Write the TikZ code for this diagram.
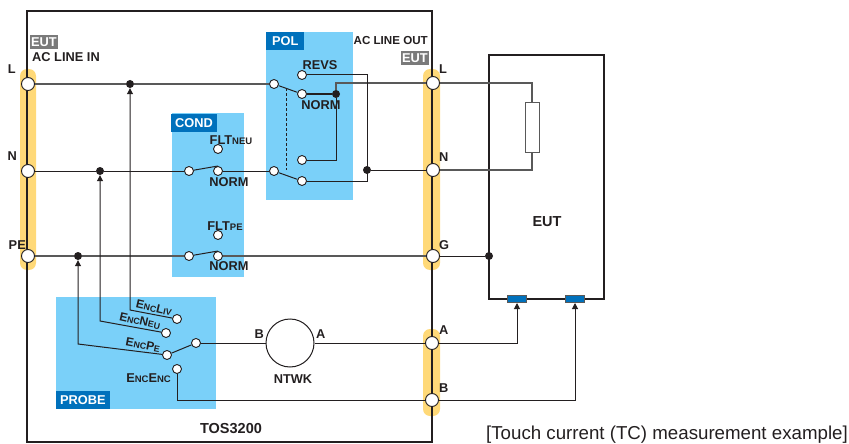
\documentclass[tikz,border=0pt]{standalone}
\usepackage{fontspec}
\setmainfont{Liberation Sans}
\usetikzlibrary{
  arrows.meta,
  positioning,
}
\definecolor{ink}{HTML}{231F20}
\definecolor{wiregrey}{HTML}{595959}
\definecolor{barbg}{HTML}{FFD978}
\definecolor{panelbg}{HTML}{7AD0F9}
\definecolor{tagblue}{HTML}{0071BC}
\definecolor{taggrey}{HTML}{7A7A7A}
\newcommand{\lbl}{\fontsize{12.8}{14}\selectfont\bfseries}
\newcommand{\lblbig}{\fontsize{14.5}{16}\selectfont\bfseries}
\newcommand{\lblsm}{\fontsize{9.5}{10}\selectfont\bfseries}
\newcommand{\enc}[2]{E{\lblsm NC}#1{\lblsm #2}}
\newcommand{\encrot}[2]{\fontsize{12}{14}\selectfont\bfseries E{\fontsize{8.8}{10}\selectfont NC}#1{\fontsize{8.8}{10}\selectfont #2}}
\tikzset{
  >={Triangle[width=6pt,length=6pt]},
  every node/.style={text=ink, font=\lbl, inner sep=0pt},
  term/.style={circle, draw=ink, fill=white, line width=0.9pt, minimum size=9pt},
  port/.style={circle, draw=ink, fill=white, line width=0.9pt, minimum size=13pt},
  jdot/.style={circle, fill=ink, minimum size=8pt},
  wire/.style={draw=ink, line width=1pt},
  gwire/.style={draw=wiregrey, line width=1.2pt},
  frame/.style={draw=ink, line width=2.2pt},
  bar/.style={fill=barbg, rounded corners=7pt},
  panel/.style={fill=panelbg},
  tag/.style={fill=tagblue, text=white, minimum height=18pt, inner xsep=4pt},
  gtag/.style={fill=taggrey, text=white, minimum height=14pt, inner xsep=1pt},
  pad/.style={fill=tagblue, draw=wiregrey, line width=1pt, minimum width=19pt, minimum height=7pt},
}

\begin{document}
\begin{tikzpicture}[x=1pt, y=-1pt]
      \useasboundingbox (0,0) rectangle (849,444);
      % backgrounds
      \fill [bar] (20,69) rectangle (36,270);
      \fill [bar] (423,69) rectangle (440,270);
      \fill [bar] (423,329) rectangle (440,416);
      \fill [panel] (172,113) rectangle (244,277);
      \fill [panel] (266,32) rectangle (353,200);
      \fill [panel] (56,297) rectangle (216,409);
      \draw [frame] (27,11) rectangle (432,442);
      \draw [frame] (489,55) rectangle (604,299);
      % tags
      \node [tag, anchor=north west, minimum width=45pt] (tagCond) at (171,114) {COND};
      \node [tag, anchor=north west, minimum width=38pt] (tagPol) at (266,32) {POL};
      \node [tag, anchor=south west, minimum width=53pt] (tagProbe) at (56,409) {PROBE};
      \node [gtag, anchor=north west] (tagIn) at (30,35) {EUT};
      \node [gtag, anchor=north east] (tagOut) at (429,51) {EUT};
      % ports
      \node [port] (inL) at (28,84) {};
      \node [port] (inN) at (28,171) {};
      \node [port] (inPE) at (28,256) {};
      \node [port] (outL) at (433,83) {};
      \node [port] (outN) at (433,170) {};
      \node [port] (outG) at (433,256) {};
      \node [port] (portA) at (432,343) {};
      \node [port] (portB) at (432,400) {};
      % junctions
      \node [jdot] (jL) at (130,84) {};
      \node [jdot] (jN) at (100,171) {};
      \node [jdot] (jPE) at (78,256) {};
      \node [jdot] (jPol) at (336,94) {};
      \node [jdot] (jRevs) at (367,170) {};
      \node [jdot] (jEut) at (489,256) {};
      % COND
      \node [term] (condNa) at (189,171) {};
      \node [term] (condNb) at (218,171) {};
      \node [term] (condNc) at (218,149) {};
      \node [term] (condPa) at (189,256) {};
      \node [term] (condPb) at (218,256) {};
      \node [term] (condPc) at (218,235) {};
      % POL
      \node [term] (polLa) at (274,84) {};
      \node [term] (polLb) at (302,94) {};
      \node [term] (polLc) at (302,75) {};
      \node [term] (polNa) at (274,171) {};
      \node [term] (polNb) at (302,181) {};
      \node [term] (polNc) at (302,160) {};
      % PROBE
      \node [term] (encLiv) at (177,319) {};
      \node [term] (encNeu) at (166,333) {};
      \node [term] (encPe) at (167,355) {};
      \node [term] (encEnc) at (177,369) {};
      \node [term] (probeCom) at (196,343) {};
      \node [circle, draw=ink, fill=white, line width=1pt, minimum size=48pt] (ntwk) at (290,343) {};
      % EUT parts
      \node [draw=wiregrey, fill=white, line width=1pt, minimum width=14pt, minimum height=50pt] (load) at (532,127) {};
      \node [pad] (padA) at (517,299) {};
      \node [pad] (padB) at (575,299) {};
      % line wires
      \draw [gwire] (inL) -- (jL);
      \draw [gwire] (jL) -- (polLa);
      \draw [wire] (inN) -- (jN);
      \draw [wire] (jN) -- (condNa);
      \draw [wire] (condNb) -- (polNa);
      \draw [gwire] (inPE) -- (jPE);
      \draw [gwire] (jPE) -- (condPa);
      \draw [gwire] (condPb) -- (outG);
      % switch arms
      \draw [wire] (condNa) -- (218,166);
      \draw [wire] (condPa) -- (218,251);
      \draw [wire] (polLa) -- (polLb);
      \draw [wire] (polNa) -- (polNb);
      \draw [wire] (probeCom) -- (encPe);
      \draw [wire, dashed, dash pattern=on 3pt off 2pt] (286,88) -- (286,170);
      % POL wiring
      \draw [wire] (polLb) -- (jPol);
      \draw [wire] (polNc) -| (jPol);
      \draw [gwire] (jPol) |- (outL);
      \draw [wire] (polLc) -- (367,75) -- (367,181) -- (polNb);
      \draw [wire] (jRevs) -- (outN);
      % EUT wiring
      \draw [gwire] (outL) -- (532,83) -- (load);
      \draw [gwire] (load) -- (532,170) -- (outN);
      \draw [wire] (outG) -- (jEut);
      % probe wiring
      \draw [->, wire] (encLiv) -- (130,310) -- (jL);
      \draw [->, wire] (encNeu) -- (100,321) -- (jN);
      \draw [->, wire] (encPe) -- (78,344) -- (jPE);
      \draw [wire] (encEnc) |- (portB);
      \draw [wire] (probeCom) -- (ntwk);
      \draw [wire] (ntwk) -- (portA);
      \draw [->, wire] (portA) -| (padA);
      \draw [->, wire] (portB) -| (padB);
      % labels
      \node [anchor=west] (inTitle) at (32,57) {AC LINE IN};
      \node [anchor=east, font=\fontsize{11.6}{14}\selectfont\bfseries] (outTitle) at (428,41) {AC LINE OUT};
      \node [anchor=east] (labInL) at (16,69) {L};
      \node [anchor=east] (labInN) at (17,156) {N};
      \node [anchor=east] (labInPE) at (26,245) {PE};
      \node [anchor=west] (labOutL) at (439,69) {L};
      \node [anchor=west] (labOutN) at (439,157) {N};
      \node [anchor=west] (labOutG) at (439,245) {G};
      \node [anchor=west] (labA) at (439,330) {A};
      \node [anchor=west] (labB) at (439,388) {B};
      \node (labFltN) at (231,140) {FLT{\lblsm NEU}};
      \node (labNormN) at (229,182) {NORM};
      \node (labFltP) at (225,226) {FLT{\lblsm PE}};
      \node (labNormP) at (229,266) {NORM};
      \node (labRevs) at (320,65) {REVS};
      \node (labNormL) at (321,105) {NORM};
      \node [rotate=-13] (labLiv) at (154,308) {\encrot{L}{IV}};
      \node [rotate=-13] (labNeu) at (140,321) {\encrot{N}{EU}};
      \node [rotate=-11] (labPe) at (143,345) {\encrot{P}{E}};
      \node [anchor=east] (labEnc) at (171,378) {\enc{E}{NC}};
      \node [anchor=east] (labNtwkB) at (264,334) {B};
      \node [anchor=west] (labNtwkA) at (316,334) {A};
      \node (labNtwk) at (293,379) {NTWK};
      \node [font=\lblbig] (labTos) at (231,429) {TOS3200};
      \node [font=\lblbig] (labEut) at (547,222) {EUT};
      \node [anchor=east, font=\fontsize{18.7}{20}\selectfont] (caption) at (848,435) {[Touch current (TC) measurement example]};
    \end{tikzpicture}
\end{document}
